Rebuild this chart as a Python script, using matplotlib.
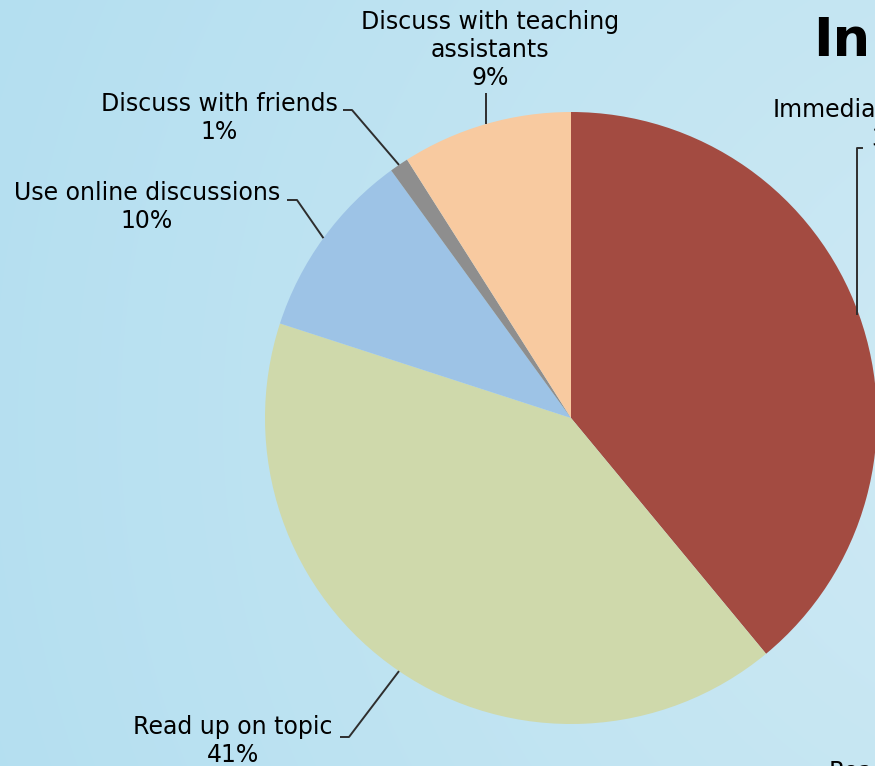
import numpy as np
import matplotlib
matplotlib.use("Agg")
import matplotlib.pyplot as plt

# Survey responses (percent)
labels = ["Immediately", "Read up on topic", "Use online discussions",
          "Discuss with friends", "Discuss with teaching\nassistants"]
values = [39, 41, 10, 1, 9]
colors = ["#a34b41", "#cfd9ab", "#9dc3e6", "#8e8e8e", "#f8caa0"]

W, H = 875, 766
fig = plt.figure(figsize=(W / 100, H / 100), dpi=100)
ax = fig.add_axes([0, 0, 1, 1])


def Y(p):
    """Convert a pixel row (from top) to data y (from bottom)."""
    return H - p


# Soft radial background
yy, xx = np.mgrid[0:H, 0:W]
d = np.hypot(xx - 1050.0, yy - 420.0)
t = np.clip(d / 1200.0, 0, 1)[..., None]
c_in = np.array([0.815, 0.918, 0.957])
c_out = np.array([0.700, 0.872, 0.942])
bg = c_in * (1 - t) + c_out * t
ax.imshow(bg, extent=[0, W, 0, H], origin="upper", zorder=0, aspect="auto",
          interpolation="bilinear")

cx, cy, R = 571, Y(418), 306
wedges, _ = ax.pie(values, colors=colors, startangle=90, counterclock=False,
                   center=(cx, cy), radius=R, frame=False,
                   wedgeprops=dict(linewidth=0, antialiased=True))
for w in wedges:
    w.set_zorder(2)

ax.set_xlim(0, W)
ax.set_ylim(0, H)
ax.set_aspect("auto")
ax.axis("off")


def rim_point(w):
    ang = np.deg2rad((w.theta1 + w.theta2) / 2)
    return cx + R * np.cos(ang), cy + R * np.sin(ang)


fs = 17
lc = "#2e2e2e"
lw = 1.4

# Data labels with leader lines: (text centre, elbow path before the rim point)
label_layout = {
    4: dict(xy=(490, 50), path=[(486, 93)]),
    3: dict(xy=(219, 118), path=[(343, 110), (352, 110)]),
    2: dict(xy=(147, 207), path=[(287, 200), (297, 200)]),
    1: dict(xy=(233, 741), path=[(340, 737), (349, 737)]),
}
for i, lay in label_layout.items():
    name = labels[i]
    ax.text(lay["xy"][0], Y(lay["xy"][1]), f"{name}\n{values[i]}%",
            ha="center", va="center", multialignment="center",
            fontsize=fs, color="black", zorder=5, linespacing=1.2)
    rx, ry = rim_point(wedges[i])
    pts = [(px, Y(py)) for px, py in lay["path"]]
    if i == 4:
        pts.append((pts[0][0], ry))
    else:
        pts.append((rx, ry))
    xs, ys = zip(*pts)
    ax.plot(xs, ys, color=lc, lw=lw, zorder=4, solid_capstyle="butt")

# Label for the largest slice, running off the right edge
rx, ry = rim_point(wedges[0])
ax.plot([862, 857, 857], [Y(148), Y(148), ry], color=lc, lw=lw, zorder=4)
ax.text(773, Y(110), labels[0], ha="left", va="center", fontsize=fs,
        color="black", zorder=5)
ax.text(871, Y(139), f"{values[0]}%", ha="left", va="center", fontsize=fs,
        color="black", zorder=5)

# Title (partially visible) and neighbouring text
ax.text(813, Y(56), "In", ha="left", va="baseline", fontsize=38,
        fontweight="bold", color="black", zorder=5)
ax.text(829, Y(779), "Rea", ha="left", va="baseline", fontsize=fs,
        color="black", zorder=5)

fig.savefig("out.png", dpi=100)
